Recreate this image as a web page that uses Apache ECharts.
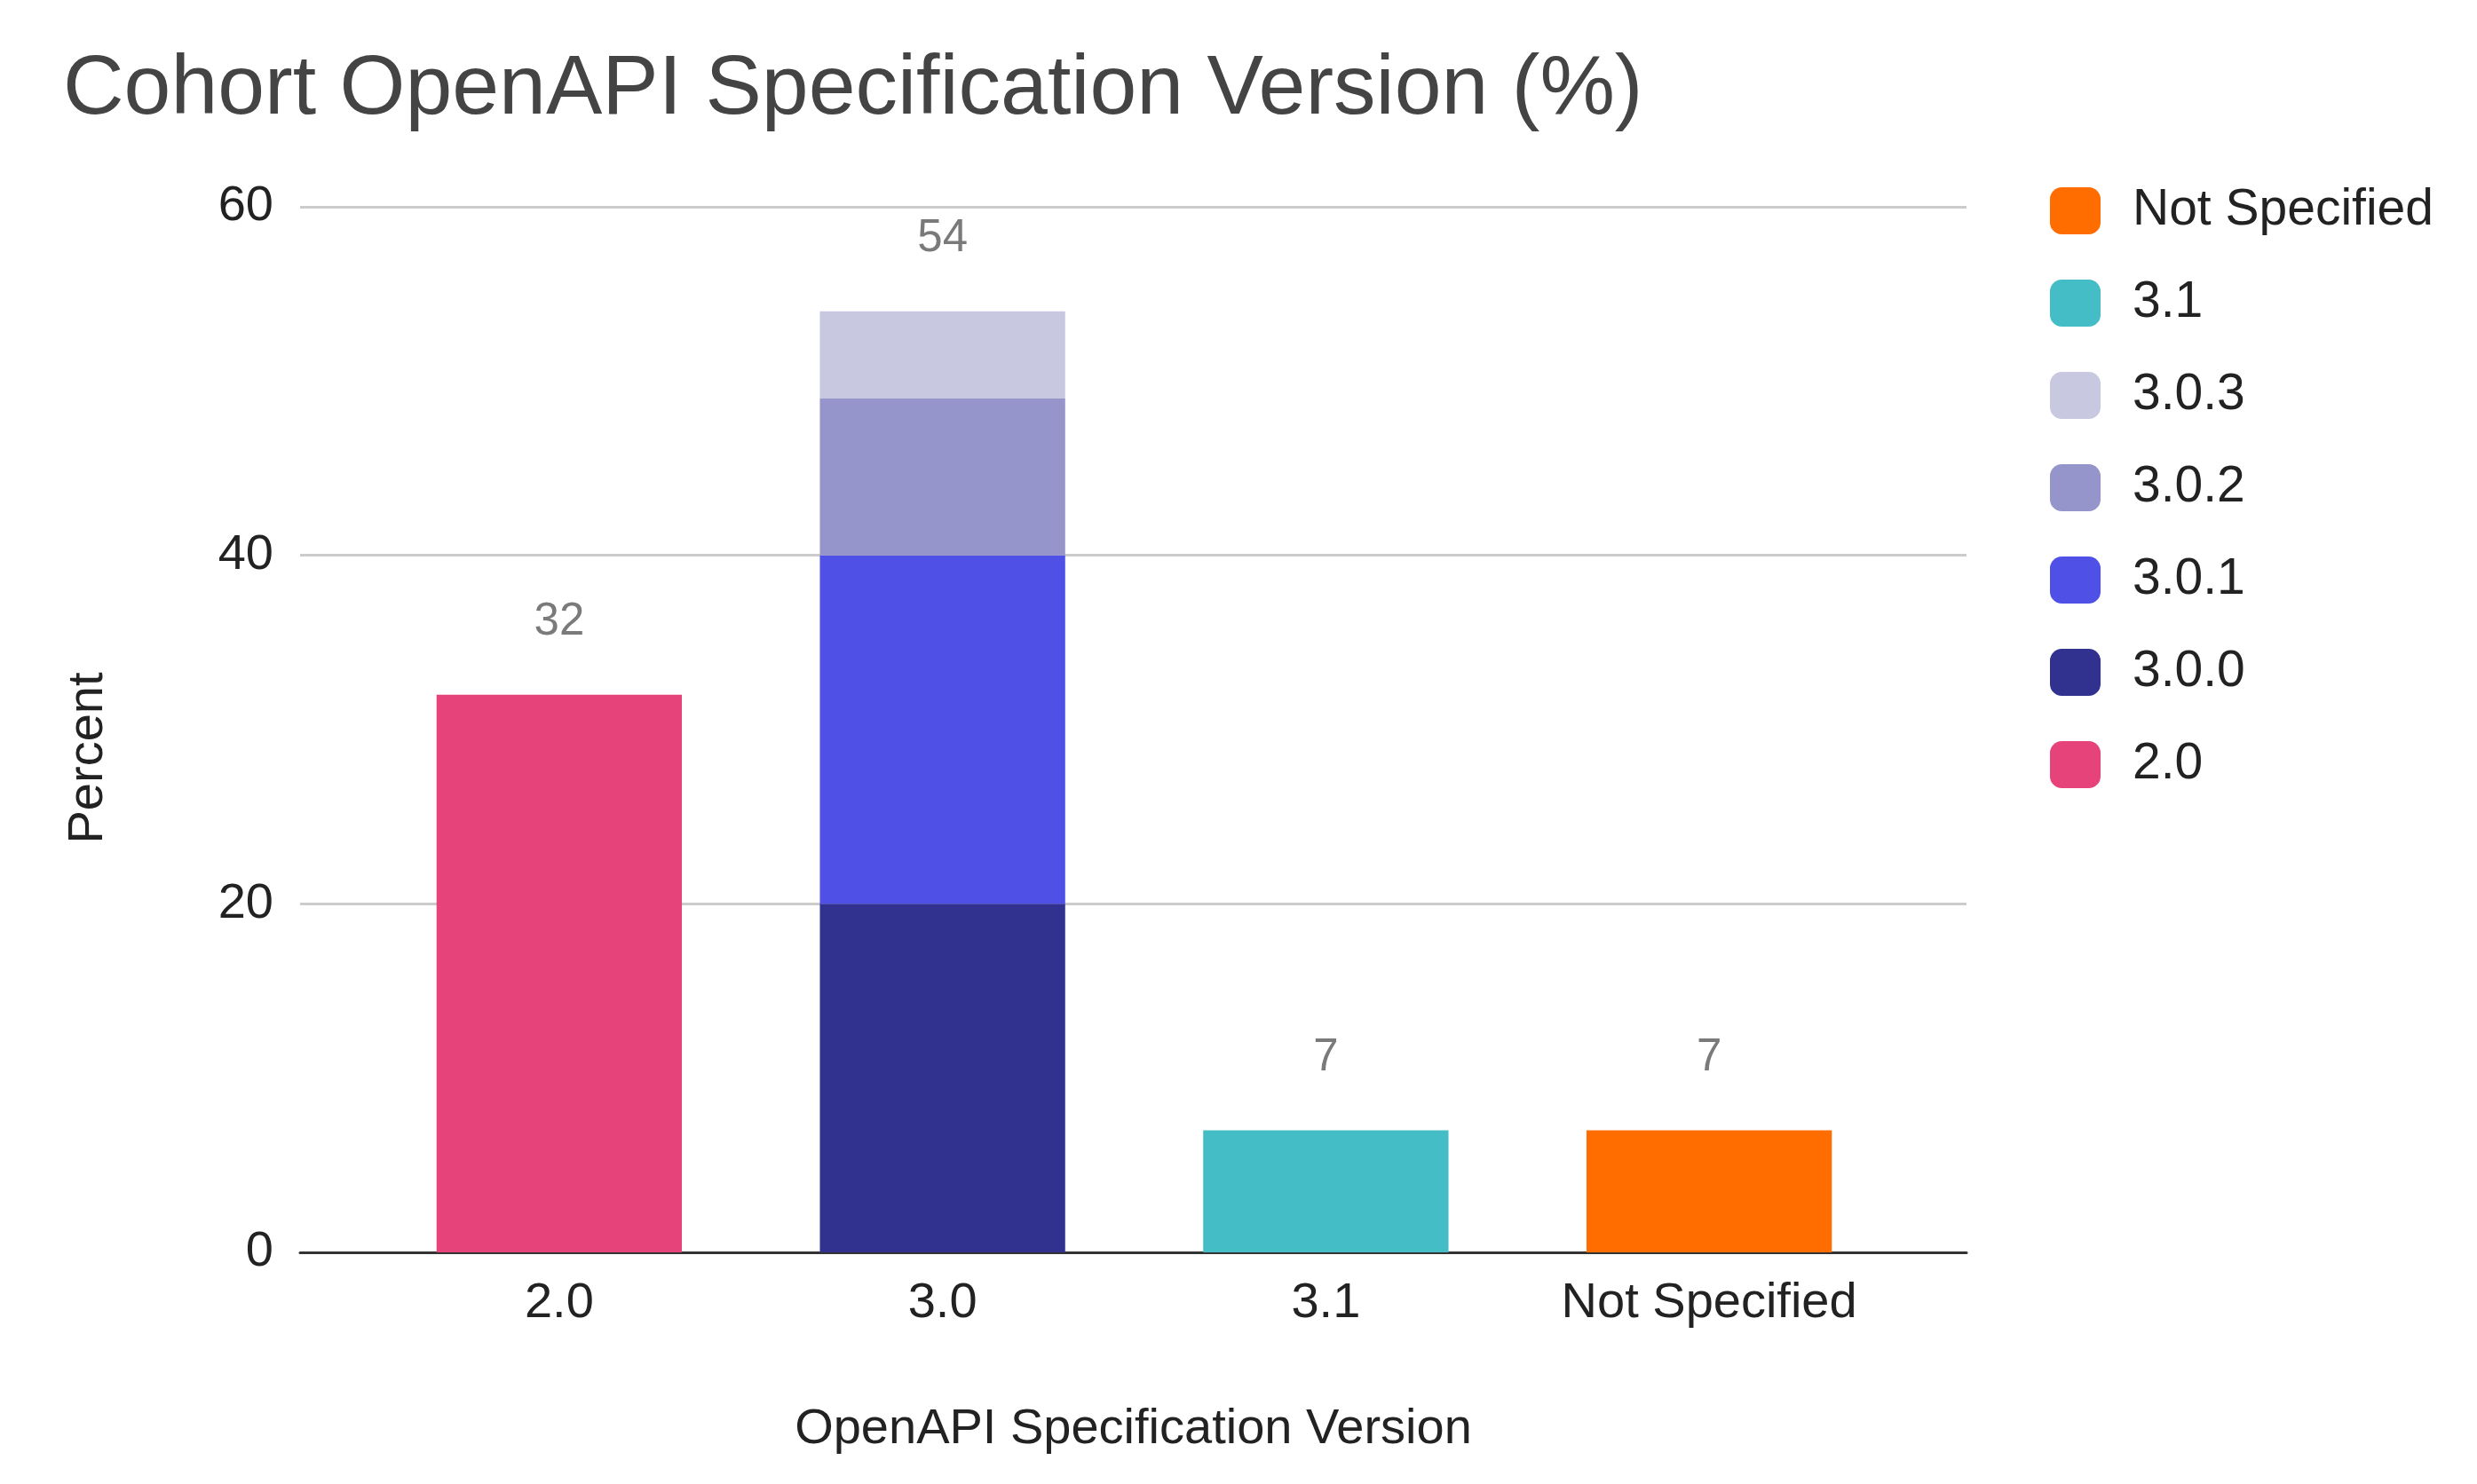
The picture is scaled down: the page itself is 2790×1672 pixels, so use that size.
<!DOCTYPE html>
<html>
<head>
	<meta charset="UTF-8">
	<title>Cohort OpenAPI Specification Version</title>
	<script src="https://cdn.jsdelivr.net/npm/echarts@6/dist/echarts.min.js"></script>
	<style>
		html, body { margin: 0; padding: 0; background: #fff; }
		#show { width: 2790px; height: 1672px; }
	</style>
</head>
<body>
<div id="show"></div>
<script type="text/javascript">
	// categories on the x axis
	var categories = ['2.0', '3.0', '3.1', 'Not Specified'];
	// one array per legend entry, '-' where the bar is absent
	var v20  = [32, '-', '-', '-'];
	var v300 = ['-', 20, '-', '-'];
	var v301 = ['-', 20, '-', '-'];
	var v302 = ['-', 9, '-', '-'];
	var v303 = ['-', 5, '-', '-'];
	var v31  = ['-', '-', 7, '-'];
	var vNS  = ['-', '-', '-', 7];
	var yTicks = [0, 20, 40, 60];
	var legendOrder = ['Not Specified', '3.1', '3.0.3', '3.0.2', '3.0.1', '3.0.0', '2.0'];

	var font = 'Liberation Sans, Arial, Helvetica, sans-serif';

	function num(v) { return v === '-' ? 0 : v; }
	function total(i) {
		return num(v300[i]) + num(v301[i]) + num(v302[i]) + num(v303[i]);
	}

	var topLabel = {
		show: true, position: 'top', distance: 56,
		color: '#7a7a7a', fontSize: 51, fontFamily: font
	};

	function bar(name, data, color, label) {
		return {
			name: name, type: 'bar', stack: 'v', data: data,
			xAxisIndex: 1, yAxisIndex: 1,
			barWidth: '64%',
			itemStyle: { color: color },
			label: label || { show: false }
		};
	}

	var myChart = echarts.init(document.getElementById('show'));
	var option = {
		backgroundColor: '#ffffff',
		animation: false,
		textStyle: { fontFamily: font },
		title: {
			text: 'Cohort OpenAPI Specification Version (%)',
			left: 66, top: 49,
			textStyle: { fontSize: 95, fontWeight: 'normal', color: '#444444', fontFamily: font }
		},
		legend: {
			orient: 'vertical', left: 2304, top: 204,
			data: legendOrder,
			icon: 'roundRect',
			itemWidth: 57, itemHeight: 53, itemGap: 47,
			textStyle: { fontSize: 57, color: '#222222', fontFamily: font, padding: [0, 0, 0, 31] }
		},
		grid: [
			{ left: 338, right: 575, top: 233, bottom: 261 },
			{ left: 414, right: 649, top: 233, bottom: 261 }
		],
		xAxis: [
			{
				gridIndex: 0, type: 'value', min: 0, max: 1,
				name: 'OpenAPI Specification Version', nameLocation: 'middle', nameGap: 172,
				nameTextStyle: { fontSize: 56, color: '#222222', fontFamily: font },
				axisLine: { show: true, lineStyle: { color: '#333333', width: 3 } },
				axisTick: { show: false }, axisLabel: { show: false }, splitLine: { show: false }
			},
			{
				gridIndex: 1, type: 'category', data: categories,
				axisLine: { show: false }, axisTick: { show: false },
				axisLabel: { interval: 0, fontSize: 56, color: '#222222', margin: 30, fontFamily: font }
			}
		],
		yAxis: [
			{
				gridIndex: 0, type: 'value', min: yTicks[0], max: yTicks[yTicks.length - 1], interval: 20,
				name: 'Percent', nameLocation: 'middle', nameGap: 210, nameRotate: 90,
				nameTextStyle: { fontSize: 56, color: '#222222', fontFamily: font, padding: [0, 64, 0, 0] },
				axisLine: { show: false }, axisTick: { show: false },
				axisLabel: { fontSize: 56, color: '#222222', margin: 30, fontFamily: font },
				splitLine: { lineStyle: { color: '#cccccc', width: 3 } }
			},
			{
				gridIndex: 1, type: 'value', min: yTicks[0], max: yTicks[yTicks.length - 1], show: false
			}
		],
		series: [
			bar('2.0', v20, '#e6437a', topLabel),
			bar('3.0.0', v300, '#31318f'),
			bar('3.0.1', v301, '#4f50e5'),
			bar('3.0.2', v302, '#9595cc'),
			bar('3.0.3', v303, '#c8c8e0', Object.assign({}, topLabel, {
				formatter: function (p) { return total(p.dataIndex); }
			})),
			bar('3.1', v31, '#45bdc6', topLabel),
			bar('Not Specified', vNS, '#ff6d00', topLabel)
		]
	};
	myChart.setOption(option);
</script>
</body>
</html>
